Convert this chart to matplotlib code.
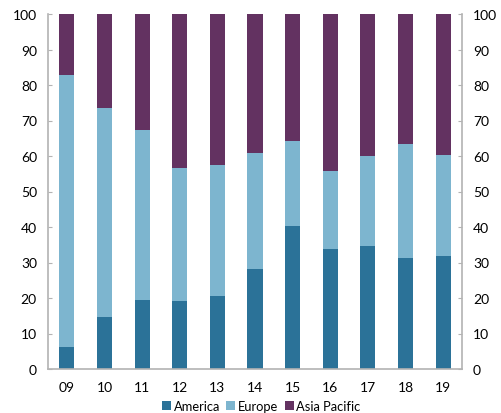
import numpy as np
import matplotlib.pyplot as plt

plt.rcParams['font.family'] = ['Lato', 'DejaVu Sans']

years = ['09', '10', '11', '12', '13', '14', '15', '16', '17', '18', '19']
america = [6.3, 14.6, 19.5, 19.2, 20.6, 28.3, 40.3, 33.8, 34.6, 31.3, 31.7]
europe_top = [82.8, 73.5, 67.2, 56.7, 57.5, 60.8, 64.1, 55.8, 60.0, 63.5, 60.4]

america = np.array(america)
europe = np.array(europe_top) - america
asia = 100 - np.array(europe_top)

c_am = '#2b7298'
c_eu = '#7db5cf'
c_as = '#633261'

fig = plt.figure(figsize=(5.01, 4.14), dpi=100)
ax = fig.add_axes([48 / 501, 1 - 370 / 414, 414 / 501, 355 / 414])

x = np.arange(len(years))
w = 0.4
ax.bar(x, america, w, color=c_am, label='America')
ax.bar(x, europe, w, bottom=america, color=c_eu, label='Europe')
ax.bar(x, asia, w, bottom=america + europe, color=c_as, label='Asia Pacific')

ax.set_xlim(-0.5, len(years) - 0.5)
ax.set_ylim(0, 100)
ax.set_yticks(range(0, 101, 10))
ax.set_xticks(x)
ax.set_xticklabels(years)

grey = '#b3b3b3'
for s in ['left', 'right', 'bottom']:
    ax.spines[s].set_color(grey)
    ax.spines[s].set_linewidth(1.2)
ax.spines['top'].set_visible(False)

ax.tick_params(axis='y', direction='in', length=3, color=grey, labelsize=10,
               pad=8, left=True, right=True, labelright=True)
ax.tick_params(axis='x', length=0, labelsize=10, pad=8.5)

ax.legend(loc='center', bbox_to_anchor=(0.515, -0.104), ncol=3, frameon=False,
          fontsize=9.3, handlelength=0.7, handleheight=0.7, handletextpad=0.2,
          columnspacing=0.5, borderpad=0, borderaxespad=0)

fig.savefig('out.png', dpi=100)
